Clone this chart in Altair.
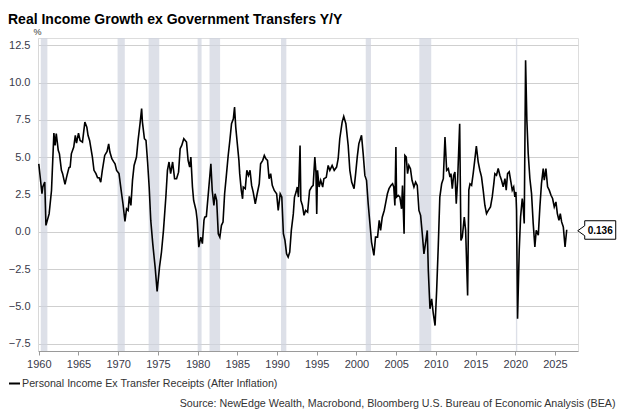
import altair as alt
import pandas as pd

# ---- data ----
years = [
    1960.0, 1960.4, 1960.5, 1960.75, 1960.9, 1961.3, 1961.6, 1961.9, 1962.05, 1962.2,
    1962.45, 1962.6, 1962.85, 1963.0, 1963.3, 1963.5, 1963.8, 1963.95, 1964.1, 1964.4,
    1964.6, 1964.75, 1965.0, 1965.2, 1965.5, 1965.8, 1966.05, 1966.2, 1966.4, 1966.75,
    1966.95, 1967.2, 1967.4, 1967.6, 1967.8, 1968.0, 1968.3, 1968.6, 1968.8, 1968.95,
    1969.2, 1969.4, 1969.6, 1969.8, 1970.1, 1970.4, 1970.6, 1970.85, 1971.05, 1971.25,
    1971.4, 1971.6, 1971.8, 1972.0, 1972.3, 1972.5, 1972.75, 1972.95, 1973.05, 1973.3,
    1973.5, 1973.7, 1973.9, 1974.1, 1974.35, 1974.5, 1974.65, 1974.9, 1975.2, 1975.45,
    1975.7, 1976.0, 1976.2, 1976.4, 1976.6, 1976.85, 1977.1, 1977.35, 1977.6, 1977.8,
    1978.0, 1978.26, 1978.6, 1978.8, 1979.0, 1979.15, 1979.35, 1979.5, 1979.8, 1979.95,
    1980.15, 1980.4, 1980.6, 1980.8, 1980.9, 1981.1, 1981.4, 1981.67, 1981.84, 1982.05,
    1982.2, 1982.4, 1982.6, 1982.8, 1983.0, 1983.2, 1983.4, 1983.6, 1983.85, 1984.06,
    1984.27, 1984.5, 1984.65, 1984.8, 1985.0, 1985.2, 1985.3, 1985.5, 1985.66, 1985.75,
    1986.0, 1986.2, 1986.4, 1986.6, 1986.8, 1987.0, 1987.26, 1987.5, 1987.76, 1987.93,
    1988.2, 1988.4, 1988.6, 1988.8, 1989.0, 1989.2, 1989.4, 1989.65, 1989.95, 1990.15,
    1990.4, 1990.6, 1990.8, 1991.0, 1991.2, 1991.4, 1991.6, 1991.8, 1992.05, 1992.2,
    1992.4, 1992.55, 1992.7, 1992.9, 1993.0, 1993.2, 1993.4, 1993.6, 1993.85, 1994.1,
    1994.35, 1994.55, 1994.76, 1994.9, 1995.0, 1995.1, 1995.3, 1995.5, 1995.75, 1995.9,
    1996.2, 1996.44, 1996.65, 1996.94, 1997.2, 1997.5, 1997.7, 1997.9, 1998.2, 1998.4,
    1998.67, 1998.96, 1999.17, 1999.4, 1999.7, 1999.9, 2000.1, 2000.3, 2000.64, 2000.85,
    2001.06, 2001.27, 2001.48, 2001.7, 2001.9, 2002.2, 2002.4, 2002.66, 2002.87, 2003.04,
    2003.25, 2003.5, 2003.7, 2003.9, 2004.1, 2004.34, 2004.55, 2004.7, 2004.84, 2004.97,
    2005.05, 2005.26, 2005.47, 2005.68, 2005.8, 2006.0, 2006.1, 2006.27, 2006.44, 2006.6,
    2006.8, 2007.0, 2007.24, 2007.45, 2007.66, 2007.87, 2008.08, 2008.29, 2008.5, 2008.75,
    2008.92, 2009.05, 2009.26, 2009.47, 2009.68, 2009.9, 2010.1, 2010.3, 2010.5, 2010.73,
    2010.94, 2011.15, 2011.36, 2011.57, 2011.78, 2011.9, 2012.07, 2012.24, 2012.4, 2012.57,
    2012.74, 2013.0, 2013.16, 2013.33, 2013.58, 2013.75, 2014.0, 2014.15, 2014.3, 2014.5,
    2014.7, 2014.9, 2015.1, 2015.33, 2015.54, 2015.75, 2015.96, 2016.17, 2016.38, 2016.6,
    2016.88, 2017.1, 2017.3, 2017.43, 2017.64, 2017.85, 2018.06, 2018.27, 2018.48, 2018.7,
    2018.86, 2019.03, 2019.24, 2019.45, 2019.62, 2019.8, 2019.95, 2020.08, 2020.16, 2020.29,
    2020.5, 2020.67, 2020.88, 2021.0, 2021.13, 2021.3, 2021.46, 2021.63, 2021.84, 2022.05,
    2022.26, 2022.47, 2022.64, 2022.9, 2023.1, 2023.3, 2023.52, 2023.65, 2023.86, 2024.07,
    2024.28, 2024.5, 2024.7, 2024.91, 2025.12, 2025.3, 2025.5, 2025.67, 2025.84, 2026.05,
    2026.27, 2026.48,
]
values = [
    4.56, 2.55, 3.0, 3.33, 0.43, 1.2, 2.77, 6.62, 5.8, 6.58,
    5.46, 5.23, 4.12, 3.9, 3.18, 3.67, 4.3, 4.34, 5.23, 5.68,
    6.47, 5.95, 6.62, 6.13, 6.02, 7.36, 7.02, 6.47, 6.13, 5.01,
    4.12, 3.9, 3.62, 3.62, 3.33, 4.12, 5.12, 5.39, 5.9, 5.35,
    4.9, 4.72, 4.56, 4.12, 3.9, 2.66, 1.88, 0.69, 1.54, 1.43,
    2.37, 1.77, 3.45, 4.45, 5.01, 6.13, 7.25, 8.26, 7.36, 6.24,
    6.13, 4.68, 3.0, 0.76, -0.8, -1.59, -2.37, -4.0, -2.37, -1.36,
    0.09, 2.33, 4.12, 4.68, 3.9, 4.68, 3.56, 3.56, 4.0, 5.57,
    5.79, 6.24, 6.02, 4.79, 4.34, 5.01, 3.0, 2.1, 1.43, 0.76,
    -1.03, -0.36, -0.8, 0.76, 0.98, 1.03, 2.89, 4.56, 2.77, 1.77,
    2.55, 2.1, -0.13, -0.36, 0.43, 0.65, 2.55, 3.67, 5.12, 6.13,
    7.25, 7.58, 8.37, 7.02, 5.9, 4.79, 3.9, 2.77, 2.21, 3.0,
    2.89, 4.12, 3.78, 4.12, 3.11, 2.66, 1.88, 2.55, 3.22, 4.56,
    4.79, 5.12, 4.9, 4.79, 3.56, 3.9, 3.11, 2.77, 2.55, 1.43,
    2.55, 2.33, -0.13, -0.58, -1.48, -1.7, -1.36, 0.09, 1.2, 2.33,
    2.66, 3.0, 2.33, 5.79, 2.1, 1.77, 1.1, 1.43, 1.32, 2.77,
    3.0, 3.11, 5.01, 4.0, 1.2, 4.12, 3.0, 3.45, 3.0, 3.56,
    3.65, 4.45, 4.12, 4.45, 4.12, 4.34, 4.9, 6.24, 7.36, 7.74,
    7.25, 5.79, 4.12, 3.33, 2.89, 3.9, 5.01, 5.9, 6.47, 5.23,
    3.78, 3.45, 1.88, 0.54, -0.69, -1.59, -0.36, -0.36, 0.76, 0.09,
    0.98, 1.43, 1.99, 2.55, 2.89, 3.11, 3.22, 3.0, 1.77, 5.68,
    2.33, 2.44, 2.33, 1.54, 3.11, -0.13, 5.12, 5.01, 3.9, 4.45,
    4.23, 3.45, 3.0, 3.33, 3.11, 1.43, 1.1, -0.13, -1.48, -0.58,
    0.09, -2.6, -5.17, -4.5, -5.5, -6.29, -3.94, -1.03, 2.33, 3.22,
    3.56, 6.35, 4.12, 4.23, 3.67, 3.9, 2.89, 3.78, 4.0, 1.88,
    3.45, 7.25, -0.58, -0.36, 0.98, 0.09, -4.27, 2.79, 3.22, 3.12,
    3.9, 4.8, 5.74, 4.69, 4.13, 3.68, 2.79, 1.78, 1.22, 1.44,
    1.67, 2.34, 3.23, 3.9, 3.79, 4.24, 3.79, 3.46, 3.01, 3.57,
    2.79, 3.9, 4.02, 3.35, 2.79, 3.01, 2.34, 2.67, 1.44, -5.83,
    -1.23, 1.0, 2.23, 1.67, 0.55, 11.5, 7.48, 5.25, 3.57, 2.56,
    0.55, -1.02, 0.1, -0.23, 1.67, 3.23, 4.24, 3.46, 4.24, 3.01,
    2.79, 2.45, 2.23, 1.67, 2.0, 1.22, 0.77, 1.22, 0.66, 0.32,
    -1.02, 0.136,
]
recession_start = [1960.25, 1969.92, 1973.83, 1980.0, 1981.5, 1990.5, 2001.17, 2007.92, 2020.08]
recession_end = [1961.08, 1970.83, 1975.17, 1980.5, 1982.83, 1991.17, 2001.83, 2009.42, 2020.25]

series_name = "Personal Income Ex Transfer Receipts (After Inflation)"
title_text = "Real Income Growth ex Government Transfers Y/Y"
source_text = "Source: NewEdge Wealth, Macrobond, Bloomberg U.S. Bureau of Economic Analysis (BEA)"
x_ticks = list(range(1960, 2030, 5))
y_ticks = [-7.5, -5.0, -2.5, 0.0, 2.5, 5.0, 7.5, 10.0, 12.5]

FONT = "Liberation Sans"

df = pd.DataFrame({"year": years, "value": values, "series": series_name})
rec = pd.DataFrame({"start": recession_start, "end": recession_end})
last = df.tail(1)

xscale = alt.Scale(domain=[1959.9, 2027.9], nice=False, zero=False)
yscale = alt.Scale(domain=[-8, 13], nice=False, zero=False)

bands = alt.Chart(rec).mark_rect(color="#ced3de", opacity=0.7).encode(
    x=alt.X("start:Q", scale=xscale,
            axis=alt.Axis(values=x_ticks, format="d", grid=False, tickSize=4,
                          tickCount=20, tickColor="#9a9a9a", domainColor="#9a9a9a",
                          labelFontSize=11, labelColor="#3a3a4a", labelFont=FONT,
                          labelPadding=3, labelFlush=False, labelOverlap=False,
                          title=source_text, titleFont=FONT, titleLimit=2000,
                          titleFontSize=10.7, titleFontWeight="normal", titleColor="#333333",
                          titleAnchor="end", titleAlign="right", titleBaseline="middle",
                          titleX=577, titleY=52)),
    x2="end:Q",
)

line = alt.Chart(df).mark_line(strokeWidth=1.6).encode(
    x=alt.X("year:Q", scale=xscale),
    y=alt.Y("value:Q", scale=yscale,
            axis=alt.Axis(values=y_ticks, tickCount=20, format=".1f", grid=True,
                          gridColor="#cfcfcf", gridWidth=1, tickSize=0, domainColor="#d8d8d8",
                          labelFontSize=11, labelColor="#3a3a4a", labelFont=FONT,
                          labelPadding=8, labelOverlap=False, labelFlush=False,
                          title="%", titleAngle=0, titleFont=FONT,
                          titleFontSize=9, titleFontWeight="normal", titleColor="#333333",
                          titleX=-1, titleY=-2, titleAlign="center", titleBaseline="bottom")),
    color=alt.Color("series:N", scale=alt.Scale(range=["#000000"]),
                    legend=alt.Legend(title=None, orient="none", legendX=-30, legendY=339,
                                      symbolType="stroke", symbolSize=121,
                                      symbolStrokeWidth=2, labelFontSize=10.7, labelFont=FONT,
                                      labelColor="#333333", labelOffset=1, padding=0,
                                      labelLimit=2000)),
)

callout_path = "M11,1 L18,-4 L18,-9 L49,-9 L49,9.5 L18,9.5 L18,6 Z"
box = alt.Chart(last).mark_point(shape=callout_path, size=4, filled=True, fill="white",
                                 stroke="#000000", strokeWidth=1, opacity=1).encode(
    x=alt.X("year:Q", scale=xscale),
    y=alt.Y("value:Q", scale=yscale),
)
label = alt.Chart(last).mark_text(dx=33.5, dy=1, font=FONT, fontSize=10, fontWeight="bold",
                                  color="#000000", align="center", baseline="middle").encode(
    x=alt.X("year:Q", scale=xscale),
    y=alt.Y("value:Q", scale=yscale),
    text=alt.Text("value:Q", format=".3f"),
)

chart = alt.layer(bands, line, box, label).properties(
    width=540, height=313,
    title=alt.TitleParams(title_text, anchor="start", frame="group", dx=-30, dy=6,
                          fontSize=14, fontWeight="bold", font=FONT, color="#000000",
                          offset=6),
    autosize=alt.AutoSizeParams(type="none"),
    padding={"left": 30, "top": 30, "right": 39, "bottom": 58},
).configure_view(stroke=None).configure(background="white")

chart.save("out.html", embed_options={"renderer": "svg", "actions": False})
